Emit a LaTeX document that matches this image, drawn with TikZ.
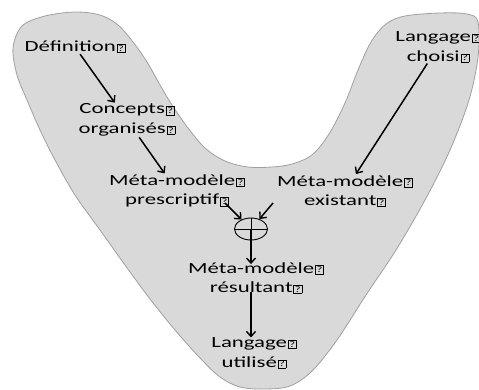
\documentclass[tikz,border=0pt]{standalone}
\usepackage{fontspec}
\setmainfont[FakeStretch=1.47]{Carlito}
\usetikzlibrary{arrows.meta,shapes.geometric}
\definecolor{blobfill}{RGB}{217,217,217}
\definecolor{blobline}{RGB}{160,160,160}
\newcommand\qb{\kern0.8pt\raisebox{0.3pt}{\setlength\fboxsep{0.9pt}\setlength\fboxrule{0.55pt}\fbox{\fontsize{8.5}{8.5}\selectfont\vphantom{A}?}}}
\tikzset{
  lbl/.style={align=center,inner sep=1pt,font=\fontsize{15.5}{19.5}\selectfont},
  arr/.style={line width=1.5pt,-{Straight Barb[length=5pt,width=9pt,line width=1.4pt]}},
  blob/.style={fill=blobfill,draw=blobline,line width=0.8pt}
}
\begin{document}
\begin{tikzpicture}[x=1pt,y=-1pt]
\useasboundingbox (0,0) rectangle (479,389);
\draw[blob] plot[smooth cycle,tension=0.55] coordinates {
 (13,48) (22,26) (45,16) (75,12) (100,15) (118,25) (133,42) (147,62) (160,85) (172,105)
 (188,128) (205,148) (225,161) (248,167) (272,167) (292,164) (312,155) (329,134)
 (345,103) (358,70) (371,42) (386,24) (405,16) (440,13) (467,14) (478,22) (478,57)
 (469,100) (450,150) (425,200) (396,250) (366,295) (337,340) (312,371) (290,386)
 (265,389) (240,387) (220,377) (200,358) (175,330) (150,299) (125,265) (100,230)
 (75,195) (55,160) (40,130) (27,100) (17,75)};
\node[lbl] (def) at (75,47) {Définition\qb};
\node[lbl] (con) at (127,120) {Concepts\qb\\organisés\qb};
\node[lbl] (pre) at (177,191) {Méta-modèle\qb\\prescriptif\qb};
\node[lbl] (exi) at (345,191) {Méta-modèle\qb\\existant\qb};
\node[lbl] (cho) at (438,47) {Langage\qb\\choisi\qb};
\node[lbl] (res) at (256,278) {Méta-modèle\qb\\résultant\qb};
\node[lbl] (uti) at (254,353) {Langage\qb\\utilisé\qb};
\node[draw,ellipse,line width=0.9pt,minimum width=33pt,minimum height=22pt,inner sep=0pt] (plus) at (251,229) {};
\draw[line width=0.9pt] (plus.west) -- (plus.east) (plus.north) -- (plus.center);
\coordinate (p1) at (225,203);
\coordinate (e1) at (273,203);
\draw[arr] (def) -- (con);
\draw[arr] (con) -- (pre);
\draw[arr] (cho) -- (exi);
\draw[arr] (p1) -- (plus);
\draw[arr] (e1) -- (plus);
\draw[arr] (plus.center) -- ([yshift=-3pt]plus.center |- res.north);
\draw[arr] ([yshift=3pt]res.south -| plus.center) -- ([yshift=-1pt]uti.north -| plus.center);
\end{tikzpicture}
\end{document}
